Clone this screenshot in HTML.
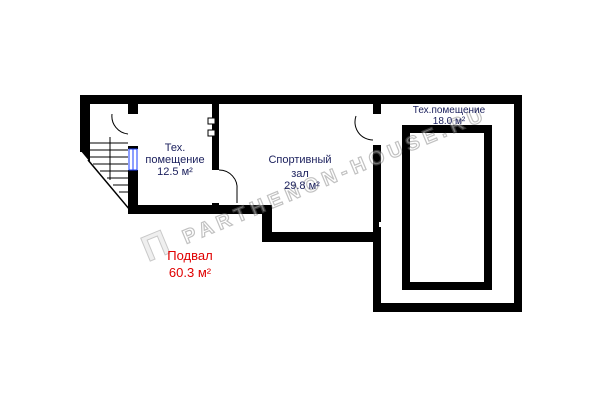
<!DOCTYPE html>
<html><head><meta charset="utf-8"><style>
html,body{margin:0;padding:0;background:#fff;width:600px;height:400px;overflow:hidden}
text{font-family:"Liberation Sans",sans-serif}
</style></head><body>
<svg width="600" height="400" viewBox="0 0 600 400" xmlns="http://www.w3.org/2000/svg">
<g fill="#000">
<rect x="80" y="95" width="442" height="9"/>
<rect x="80" y="95" width="10" height="57"/>
<polygon points="80,150 90,150 90,162"/>
<rect x="128" y="104" width="10" height="10"/>
<rect x="128" y="146" width="10" height="3"/>
<rect x="128" y="170" width="10" height="44"/>
<rect x="128" y="205" width="144" height="9"/>
<rect x="262" y="205" width="10" height="37"/>
<rect x="262" y="232" width="119" height="10"/>
<rect x="212" y="104" width="7" height="66"/>
<rect x="212" y="203" width="7" height="10"/>
<rect x="373" y="104" width="8" height="10"/>
<rect x="373" y="145" width="8" height="167"/>
<rect x="514" y="95" width="8" height="217"/>
<rect x="373" y="303" width="149" height="9"/>
<rect x="402" y="125" width="90" height="8"/>
<rect x="402" y="282" width="90" height="8"/>
<rect x="402" y="125" width="8" height="165"/>
<rect x="484" y="125" width="8" height="165"/>
</g>
<rect x="208" y="118" width="7" height="6" fill="#fff" stroke="#000" stroke-width="1"/>
<rect x="208" y="130" width="7" height="6" fill="#fff" stroke="#000" stroke-width="1"/>
<rect x="379" y="222" width="2" height="5" fill="#fff"/>
<rect x="129" y="149" width="8" height="21" fill="#fff" stroke="#1a3cff" stroke-width="1"/>
<line x1="133" y1="149" x2="133" y2="170" stroke="#1a3cff"/>
<g stroke="#000" stroke-width="1">
<line x1="90" y1="143" x2="128" y2="143"/>
<line x1="90" y1="150" x2="128" y2="150"/>
<line x1="90" y1="157" x2="128" y2="157"/>
<line x1="93" y1="164" x2="128" y2="164"/>
<line x1="100" y1="171" x2="128" y2="171"/>
<line x1="107" y1="178" x2="128" y2="178"/>
<line x1="113" y1="185" x2="128" y2="185"/>
<line x1="119" y1="192" x2="128" y2="192"/>
<line x1="110" y1="137" x2="110" y2="180"/>
<line x1="88" y1="160" x2="130" y2="210" stroke-width="1.5"/>
</g>
<g fill="none" stroke="#000" stroke-width="1">
<path d="M112,114 A18,18 0 0 0 128,134"/>
<path d="M219,170 A18,18 0 0 1 237,190 L237,203"/>
<path d="M356,116 A18,18 0 0 0 373,140"/>
</g>
<g transform="translate(148,262) rotate(-22.5)" opacity="0.45">
<text x="0" y="0" font-size="36" font-weight="bold" fill="#ddd" stroke="#888" stroke-width="1">Π</text>
<text x="42" y="-2" font-size="20" font-weight="bold" fill="#fff" stroke="#777" stroke-width="1.2" letter-spacing="5">PARTHENON-HOUSE.RU</text>
</g>
<g fill="#1a1f5c" font-size="11" text-anchor="middle">
<text x="175" y="151">Тех.</text>
<text x="175" y="163">помещение</text>
<text x="175" y="175">12.5 м²</text>
<text x="300" y="163">Спортивный</text>
<text x="300" y="177">зал</text>
<text x="302" y="189">29.8 м²</text>
<text x="449" y="113" font-size="10">Тех.помещение</text>
<text x="449" y="124" font-size="10">18.0 м²</text>
</g>
<g fill="#e00000" font-size="13" text-anchor="middle">
<text x="190" y="260">Подвал</text>
<text x="190" y="277">60.3 м²</text>
</g>
</svg>
</body></html>
